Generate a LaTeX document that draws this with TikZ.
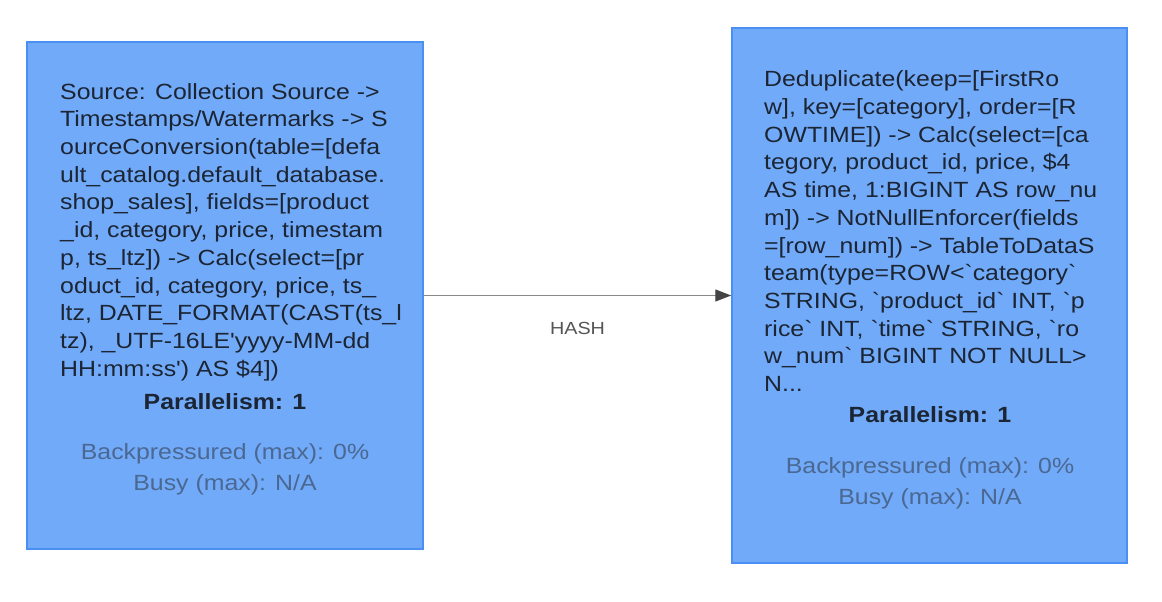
\documentclass[tikz,border=0pt]{standalone}
\usepackage{fontspec}
\newfontfamily\opfont{Liberation Sans}[FakeStretch=1.13]
\usetikzlibrary{arrows.meta}
\definecolor{opfill}{RGB}{114,170,250}
\definecolor{opline}{RGB}{74,144,242}
\definecolor{optext}{RGB}{27,37,51}
\definecolor{opmuted}{RGB}{74,104,145}
\definecolor{flowgray}{RGB}{138,138,138}
\definecolor{tipgray}{RGB}{68,68,68}
\definecolor{labelgray}{RGB}{85,85,85}
\begin{document}
\begin{tikzpicture}[
    x=1pt, y=-1pt,
    opbox/.style={rectangle, draw=opline, fill=opfill, line width=1.5pt, inner sep=0pt},
    opbody/.style={anchor=north west, inner sep=0pt, align=left, text=optext,
        font=\opfont\fontsize{22}{27.7}\selectfont},
    oppar/.style={anchor=north, inner sep=0pt, text=optext,
        font=\opfont\bfseries\fontsize{22}{27.7}\selectfont},
    opstats/.style={anchor=north, inner sep=0pt, align=center, text=opmuted,
        font=\opfont\fontsize{22}{31.5}\selectfont},
    flow/.style={draw=flowgray, line width=1.3pt, -{Triangle[length=16pt, width=12pt, color=tipgray, fill=tipgray]}},
    flowlabel/.style={inner sep=0pt, text=labelgray, font=\opfont\fontsize{17.5}{20}\selectfont}
]
\useasboundingbox (0,0) rectangle (1162,602);
% operator boxes
\node[opbox, minimum width=396pt, minimum height=507pt] (source) at (225,295.5) {};
\node[opbox, minimum width=395pt, minimum height=535pt] (dedup) at (929.5,295.5) {};
% source operator
\node[opbody] (sourcebody) at (60,83) {Source: Collection Source ->\\
    Timestamps/Watermarks -> S\\
    ourceConversion(table=[defa\\
    ult\_catalog.default\_database.\\
    shop\_sales], fields=[product\\
    \_id, category, price, timestam\\
    p, ts\_ltz]) -> Calc(select=[pr\\
    oduct\_id, category, price, ts\_\\
    ltz, DATE\_FORMAT(CAST(ts\_l\\
    tz), \_UTF-16LE'yyyy-MM-dd\\
    HH:mm:ss') AS \$4])};
\node[oppar] (sourcepar) at (225,393) {Parallelism: 1};
\node[opstats] (sourcestats) at (225,443) {Backpressured (max): 0\%\\Busy (max): N/A};
% dedup operator
\node[opbody] (dedupbody) at (764,70.7) {Deduplicate(keep=[FirstRo\\
    w], key=[category], order=[R\\
    OWTIME]) -> Calc(select=[ca\\
    tegory, product\_id, price, \$4\\
    AS time, 1:BIGINT AS row\_nu\\
    m]) -> NotNullEnforcer(fields\\
    =[row\_num]) -> TableToDataS\\
    team(type=ROW<`category`\\
    STRING, `product\_id` INT, `p\\
    rice` INT, `time` STRING, `ro\\
    w\_num` BIGINT NOT NULL>\\
    N...};
\node[oppar] (deduppar) at (930,406) {Parallelism: 1};
\node[opstats] (dedupstats) at (930,457) {Backpressured (max): 0\%\\Busy (max): N/A};
% edge
\draw[flow] (source) -- (dedup) node[flowlabel, midway, below=26pt] (hash) {HASH};
\end{tikzpicture}
\end{document}
